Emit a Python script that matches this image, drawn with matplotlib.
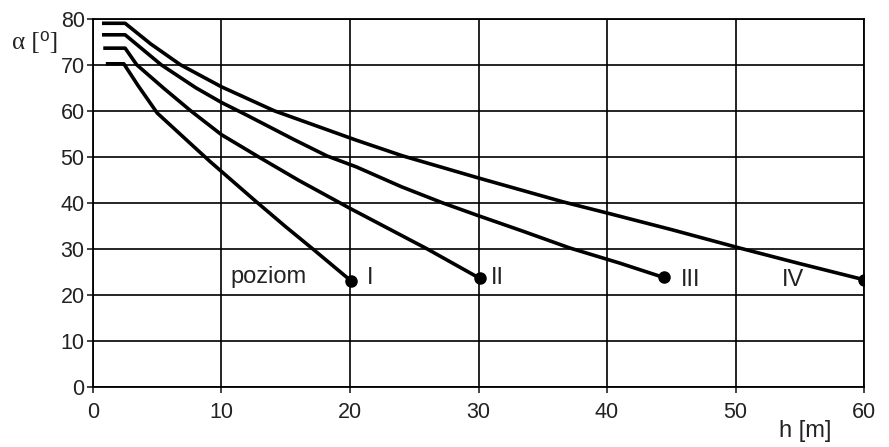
import matplotlib
matplotlib.use("Agg")
import matplotlib.pyplot as plt

plt.rcParams['font.family'] = ['Liberation Sans', 'DejaVu Sans']

# curves: h [m] vs alpha [deg]
h_I = [1.0, 2.4, 3.5, 5.0, 7.3, 9.1, 12.6, 15.0, 17.1, 20.1]
a_I = [70.2, 70.2, 65.5, 59.5, 53.6, 49.0, 40.5, 34.8, 30.0, 23.0]

h_II = [0.8, 2.5, 3.4, 5.5, 7.6, 10.0, 13.0, 16.0, 20.0, 23.0, 26.0, 30.1]
a_II = [73.6, 73.6, 70.0, 64.9, 60.0, 54.8, 49.8, 44.9, 38.8, 34.4, 30.0, 23.6]

h_III = [0.7, 2.5, 5.3, 8.0, 10.0, 12.0, 15.6, 18.2, 20.5, 24.0, 27.2, 30.0, 33.5, 37.1, 41.0, 44.4]
a_III = [76.5, 76.5, 70.0, 65.0, 61.8, 59.0, 53.8, 50.2, 47.8, 43.5, 40.0, 37.2, 33.8, 30.2, 26.9, 23.8]

h_IV = [0.7, 2.5, 4.5, 6.8, 10.0, 14.1, 20.5, 24.1, 30.0, 36.6, 40.0, 45.0, 50.3, 55.0, 60.0]
a_IV = [79.0, 79.0, 74.5, 70.0, 65.2, 60.0, 53.6, 50.2, 45.4, 40.2, 37.8, 34.2, 30.2, 26.8, 23.3]

curves = [(h_I, a_I), (h_II, a_II), (h_III, a_III), (h_IV, a_IV)]
level_names = ['I', 'II', 'III', 'IV']
level_pos = [(21.6, 23.6), (31.5, 23.6), (46.5, 23.3), (54.5, 23.3)]

x_ticks = [0, 10, 20, 30, 40, 50, 60]
y_ticks = [0, 10, 20, 30, 40, 50, 60, 70, 80]

fig = plt.figure(figsize=(8.89, 4.47), dpi=100)
ax = fig.add_axes([0.1046, 0.1342, 0.8673, 0.824])

for h, a in curves:
    ax.plot(h, a, color='black', lw=2.6, solid_capstyle='butt',
            solid_joinstyle='round', zorder=3)
    ax.plot(h[-1], a[-1], 'o', color='black', ms=8, zorder=4)

for name, (x, y) in zip(level_names, level_pos):
    ax.text(x, y, name, fontsize=17, ha='center', va='center', color='#222222')
ax.text(10.66, 24.0, 'poziom', fontsize=17, ha='left', va='center', color='#222222')

ax.set_xlim(0, 60)
ax.set_ylim(0, 80)
ax.set_xticks(x_ticks)
ax.set_yticks(y_ticks)
ax.grid(True, color='black', lw=1.2)
for s in ax.spines.values():
    s.set_color('black')
    s.set_linewidth(1.3)
ax.tick_params(direction='out', length=4, width=1.2, labelsize=15.5, colors='#222222', pad=3)
ax.tick_params(axis='x', pad=7)
ax.tick_params(axis='y', pad=2)

fig.text(12 / 889, 1 - 43 / 447, 'α [⁰]', fontsize=18, ha='left', va='center',
         family=['Liberation Serif', 'DejaVu Sans'], color='#222222')
fig.text(805 / 889, 1 - 431 / 447, 'h [m]', fontsize=17, ha='center', va='center',
         color='#222222')

fig.savefig('out.png', dpi=100)
